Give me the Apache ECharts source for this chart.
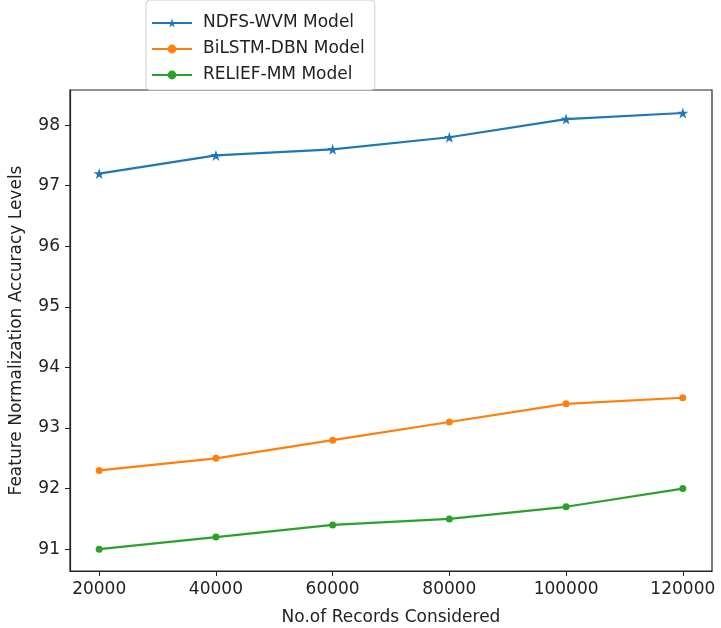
<!DOCTYPE html>
<html>
<head>
<meta charset="utf-8">
<script src="https://cdn.jsdelivr.net/npm/echarts@6/dist/echarts.min.js"></script>
<style>
  html, body { margin: 0; padding: 0; background: #fff; }
  #main { width: 721px; height: 628px; }
</style>
</head>
<body>
<div id="main"></div>
<script>
// data
var records = [20000, 40000, 60000, 80000, 100000, 120000];
var ndfsWvm = [97.2, 97.5, 97.6, 97.8, 98.1, 98.2];
var bilstmDbn = [92.3, 92.5, 92.8, 93.1, 93.4, 93.5];
var reliefMm = [91.0, 91.2, 91.4, 91.5, 91.7, 92.0];
var xTicks = [20000, 40000, 60000, 80000, 100000, 120000];
var yTicks = [91, 92, 93, 94, 95, 96, 97, 98];

function pairs(vals) {
    return records.map(function (r, i) { return [r, vals[i]]; });
}

var font = 'DejaVu Sans';
var chart = echarts.init(document.getElementById('main'));

chart.setOption({
    animation: false,
    textStyle: { fontFamily: font },
    grid: {
        left: 70, right: 9, top: 90, bottom: 57,
        outerBoundsMode: 'none',
        show: true, borderColor: '#222', borderWidth: 1.2
    },
    legend: {
        orient: 'vertical',
        left: 146,
        top: 0,
        padding: [14, 10, 6, 5],
        itemWidth: 40,
        itemHeight: 11,
        itemGap: 8,
        backgroundColor: '#fff',
        borderColor: '#cfcfcf',
        borderWidth: 1,
        borderRadius: 4,
        z: 10,
        textStyle: { fontFamily: font, fontSize: 17, color: '#222', lineHeight: 18, padding: [0, 0, 0, 6] },
        data: ['NDFS-WVM Model', 'BiLSTM-DBN Model', 'RELIEF-MM Model']
    },
    xAxis: {
        type: 'value',
        min: 15000,
        max: 125000,
        name: 'No.of Records Considered',
        nameLocation: 'middle',
        nameGap: 38,
        nameTextStyle: { fontFamily: font, fontSize: 17, color: '#222' },
        axisLine: { show: true, lineStyle: { color: '#222', width: 1.2 } },
        axisTick: { show: true, customValues: xTicks, length: 5, lineStyle: { color: '#222' } },
        axisLabel: {
            customValues: xTicks, fontFamily: font, fontSize: 17, color: '#222', margin: 10,
            formatter: function (v) { return String(v); }
        },
        splitLine: { show: false }
    },
    yAxis: {
        type: 'value',
        min: 90.64,
        max: 98.58,
        name: 'Feature Normalization Accuracy Levels',
        nameLocation: 'middle',
        nameGap: 45,
        nameTextStyle: { fontFamily: font, fontSize: 17, color: '#222' },
        axisLine: { show: true, lineStyle: { color: '#222', width: 1.2 } },
        axisTick: { show: true, customValues: yTicks, length: 5, lineStyle: { color: '#222' } },
        axisLabel: { customValues: yTicks, fontFamily: font, fontSize: 17, color: '#222', margin: 10 },
        splitLine: { show: false }
    },
    series: [
        {
            name: 'NDFS-WVM Model',
            type: 'line',
            data: pairs(ndfsWvm),
            color: '#1f77b4',
            symbol: 'path://M50,0 L61.8,35.5 L100,35.5 L69.1,57.5 L80.9,93 L50,71 L19.1,93 L30.9,57.5 L0,35.5 L38.2,35.5 Z',
            symbolSize: 11,
            lineStyle: { width: 2.2 }
        },
        {
            name: 'BiLSTM-DBN Model',
            type: 'line',
            data: pairs(bilstmDbn),
            color: '#ff7f0e',
            symbol: 'circle',
            symbolSize: 7,
            lineStyle: { width: 2.2 }
        },
        {
            name: 'RELIEF-MM Model',
            type: 'line',
            data: pairs(reliefMm),
            color: '#2ca02c',
            symbol: 'circle',
            symbolSize: 7,
            lineStyle: { width: 2.2 }
        }
    ]
});
</script>
</body>
</html>
